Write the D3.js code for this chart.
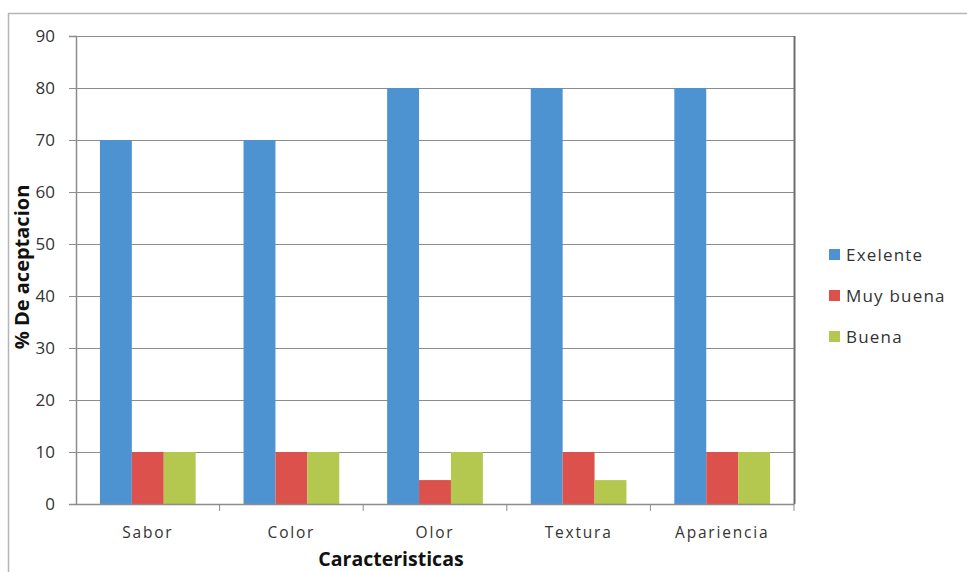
<!DOCTYPE html>
<html>
<head>
<meta charset="utf-8">
<script src="https://cdn.jsdelivr.net/npm/d3@7"></script>
<style>
  body { margin: 0; background: #fff; }
  svg text { font-family: "Open Sans", "Liberation Sans", sans-serif; }
</style>
</head>
<body>
<div id="chart"></div>
<script>
// Chart data
const categories = ["Sabor", "Color", "Olor", "Textura", "Apariencia"];
const seriesNames = ["Exelente", "Muy buena", "Buena"];
const exelente = [70, 70, 80, 80, 80];
const muyBuena = [10, 10, 4.6, 10, 10];
const buena = [10, 10, 10, 4.6, 10];
const yTicks = [0, 10, 20, 30, 40, 50, 60, 70, 80, 90];

const colors = ["#4E93D1", "#DC514C", "#B4C850"];

const W = 967, H = 572;
const margin = { top: 36, right: 173, bottom: 68, left: 76 },
      width = W - margin.left - margin.right,
      height = H - margin.top - margin.bottom;

const svg = d3.select("#chart")
  .append("svg")
    .attr("width", W)
    .attr("height", H);

// outer chart border (cut at right / bottom)
svg.append("path")
  .attr("d", `M8.5,${H} V13.5 H${W}`)
  .attr("fill", "none")
  .attr("stroke", "#b5b5b5")
  .attr("stroke-width", 1.5);

const g = svg.append("g")
  .attr("transform", `translate(${margin.left},${margin.top})`);

const x = d3.scaleBand()
  .domain(categories)
  .range([0, width])
  .paddingInner(0)
  .paddingOuter(0);

const x1 = d3.scaleBand()
  .domain(seriesNames)
  .range([x.bandwidth() * 0.75 / 4.5, x.bandwidth() - x.bandwidth() * 0.75 / 4.5]);

const y = d3.scaleLinear()
  .domain([0, 90])
  .range([height, 0]);

// gridlines
g.append("g")
  .selectAll("line")
  .data(yTicks.filter(d => d > 0))
  .join("line")
    .attr("x1", 0)
    .attr("x2", width)
    .attr("y1", d => Math.round(y(d)) + 0.5)
    .attr("y2", d => Math.round(y(d)) + 0.5)
    .attr("stroke", "#8c8c8c")
    .attr("stroke-width", 1);

// bars
const rows = categories.map((c, i) => ({
  cat: c,
  vals: [exelente[i], muyBuena[i], buena[i]]
}));

g.append("g")
  .selectAll("g")
  .data(rows)
  .join("g")
    .attr("transform", d => `translate(${x(d.cat)},0)`)
  .selectAll("rect")
  .data(d => d.vals.map((v, j) => ({ key: seriesNames[j], v: v, j: j })))
  .join("rect")
    .attr("x", d => x1(d.key))
    .attr("width", x1.bandwidth())
    .attr("y", d => y(d.v))
    .attr("height", d => y(0) - y(d.v))
    .attr("fill", d => colors[d.j]);

// right border of plot area
g.append("line")
  .attr("x1", width + 0.5).attr("x2", width + 0.5)
  .attr("y1", 0).attr("y2", height)
  .attr("stroke", "#6e6e6e")
  .attr("stroke-width", 2);

// y axis
const yAxis = g.append("g")
  .call(d3.axisLeft(y).tickValues(yTicks).tickSize(7).tickPadding(14));
yAxis.select(".domain").attr("stroke", "#8c8c8c").attr("stroke-width", 1.5);
yAxis.selectAll(".tick line").attr("stroke", "#8c8c8c");
yAxis.selectAll("text")
  .attr("fill", "#333")
  .style("font-size", "17px");

// x axis
const xAxis = g.append("g")
  .attr("transform", `translate(0,${height})`)
  .call(d3.axisBottom(x).tickSize(0).tickPadding(23));
xAxis.select(".domain").attr("stroke", "#8c8c8c").attr("stroke-width", 1.5);
xAxis.selectAll("text")
  .attr("fill", "#333")
  .style("font-size", "15.5px")
  .style("letter-spacing", "1.8px");

// category dividers
xAxis.append("g")
  .selectAll("line")
  .data(categories.slice(1).map(c => x(c)).concat([width]))
  .join("line")
    .attr("x1", d => d).attr("x2", d => d)
    .attr("y1", 0).attr("y2", 7)
    .attr("stroke", "#8c8c8c");

// axis titles
svg.append("text")
  .attr("transform", `translate(29,${margin.top + 231}) rotate(-90)`)
  .attr("text-anchor", "middle")
  .style("font-size", "20px")
  .style("font-weight", "bold")
  .attr("fill", "#111")
  .text("% De aceptacion");

svg.append("text")
  .attr("x", 391)
  .attr("y", 566)
  .attr("text-anchor", "middle")
  .style("font-size", "19.5px")
  .style("font-weight", "bold")
  .attr("fill", "#111")
  .text("Caracteristicas");

// legend
const legend = svg.append("g")
  .attr("transform", "translate(829,255)")
  .selectAll("g")
  .data(seriesNames)
  .join("g")
    .attr("transform", (d, i) => `translate(0,${i * 41})`);

legend.append("rect")
  .attr("x", 0).attr("y", -6)
  .attr("width", 11).attr("height", 11)
  .attr("fill", (d, i) => colors[i]);

legend.append("text")
  .attr("x", 17)
  .attr("y", 0)
  .attr("dy", "0.35em")
  .style("font-size", "17px")
  .style("letter-spacing", "1.2px")
  .attr("fill", "#333")
  .text(d => d);
</script>
</body>
</html>
